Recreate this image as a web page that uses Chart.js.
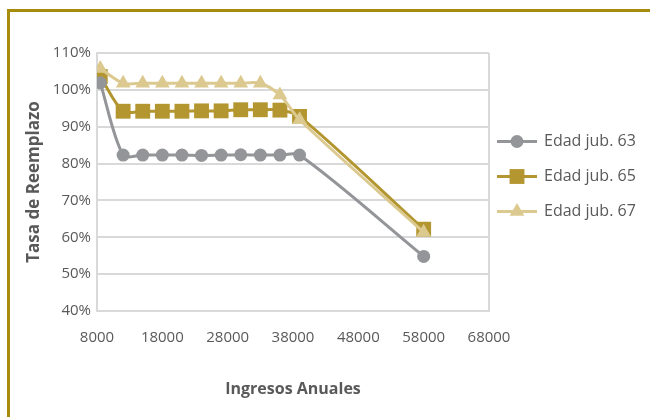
<!DOCTYPE html>
<html>
<head>
<meta charset="utf-8">
<script src="https://cdn.jsdelivr.net/npm/chart.js@4/dist/chart.umd.min.js"></script>
<style>
  body { margin: 0; background: #fff; }
  #wrap { position: relative; width: 650px; height: 417px; overflow: hidden; }
  #frame { position: absolute; left: 7px; top: 9px; width: 700px; height: 500px;
           border-top: 3px solid #a68b0c; border-left: 3px solid #a68b0c; }
  canvas { position: absolute; left: 0; top: 0; }
</style>
</head>
<body>
<div id="wrap">
  <div id="frame"></div>
  <canvas id="tasa" width="650" height="417"></canvas>
</div>
<script>
// ingresos anuales y tasa de reemplazo (%) por edad de jubilación
const ingresos = [8500, 12000, 15000, 18000, 21000, 24000, 27000, 30000, 33000, 36000, 39000, 58000];
const edad63 = [101.9, 82.3, 82.3, 82.3, 82.3, 82.2, 82.3, 82.4, 82.3, 82.3, 82.3, 54.8];
const edad65 = [103.6, 94.2, 94.2, 94.2, 94.2, 94.3, 94.3, 94.6, 94.6, 94.5, 92.8, 62.2];
const edad67 = [105.8, 101.8, 101.8, 101.8, 101.8, 101.8, 101.8, 101.8, 101.8, 98.6, 91.9, 61.4];
const xTicks = [8000, 18000, 28000, 38000, 48000, 58000, 68000];

const gris = '#939598';
const oro = '#b3962f';
const oroClaro = '#dcc98f';
const texto = '#595959';
const rejilla = '#d9d9d9';

function puntos(serie) {
  return serie.map((v, i) => ({ x: ingresos[i], y: v }));
}

// leyenda a la derecha: línea con su marcador
const leyenda = {
  id: 'leyenda',
  afterDraw(chart) {
    const ctx = chart.ctx;
    const x0 = chart.chartArea.right + 8;
    chart.data.datasets.forEach((ds, i) => {
      const y = 141.5 + i * 35;
      ctx.save();
      ctx.strokeStyle = ds.borderColor;
      ctx.lineWidth = 3;
      ctx.beginPath();
      ctx.moveTo(x0, y);
      ctx.lineTo(x0 + 40, y);
      ctx.stroke();
      ctx.fillStyle = ds.pointBackgroundColor;
      ctx.strokeStyle = ds.pointBorderColor;
      Chart.helpers.drawPoint(ctx, {
        pointStyle: ds.pointStyle, radius: ds.pointRadius, rotation: 0, borderWidth: 0
      }, x0 + 20, y);
      ctx.fillStyle = texto;
      ctx.font = '16px "Open Sans"';
      ctx.textBaseline = 'middle';
      ctx.fillText(ds.label, x0 + 47, y);
      ctx.restore();
    });
  }
};

function serie(label, data, color, estilo, radio, orden) {
  return {
    label: label,
    data: puntos(data),
    borderColor: color,
    backgroundColor: color,
    pointBackgroundColor: color,
    pointBorderColor: color,
    pointBorderWidth: 0,
    borderWidth: 3,
    pointStyle: estilo,
    pointRadius: radio,
    tension: 0.3,
    order: orden
  };
}

new Chart(document.getElementById('tasa'), {
  type: 'line',
  data: {
    datasets: [
      serie('Edad jub. 63', edad63, gris, 'circle', 6.5, 0),
      serie('Edad jub. 65', edad65, oro, 'rect', 10.5, 2),
      serie('Edad jub. 67', edad67, oroClaro, 'triangle', 8.5, 1)
    ]
  },
  options: {
    responsive: false,
    animation: false,
    events: [],
    layout: { padding: { top: 53, right: 161, left: 0, bottom: 0 } },
    plugins: { legend: { display: false }, tooltip: { enabled: false } },
    scales: {
      x: {
        type: 'linear',
        min: 8000,
        max: 68000,
        afterBuildTicks(scale) { scale.ticks = xTicks.map(v => ({ value: v })); },
        afterFit(scale) { scale.height = 106; },
        ticks: {
          color: texto,
          font: { family: 'Open Sans', size: 15 },
          padding: 18,
          maxRotation: 0,
          autoSkip: false,
          callback: v => String(v)
        },
        grid: {
          drawTicks: false,
          lineWidth: 2,
          color: c => (c.tick && c.tick.value === 68000 ? rejilla : 'rgba(0,0,0,0)')
        },
        border: { color: rejilla, width: 2 },
        title: {
          display: true,
          text: 'Ingresos Anuales',
          color: texto,
          font: { family: 'Open Sans', size: 16, weight: 'bold' },
          padding: { top: 0, bottom: 18 }
        }
      },
      y: {
        min: 40,
        max: 110,
        afterFit(scale) { scale.width = 97; },
        ticks: {
          stepSize: 10,
          color: texto,
          font: { family: 'Open Sans', size: 15 },
          padding: 6,
          callback: v => v + '%'
        },
        grid: { drawTicks: false, color: rejilla, lineWidth: 2 },
        border: { color: rejilla, width: 2 },
        title: {
          display: true,
          text: 'Tasa de Reemplazo',
          color: texto,
          font: { family: 'Open Sans', size: 17, weight: 'bold' },
          padding: { top: 24, bottom: 0 }
        }
      }
    }
  },
  plugins: [leyenda]
});
</script>
</body>
</html>
